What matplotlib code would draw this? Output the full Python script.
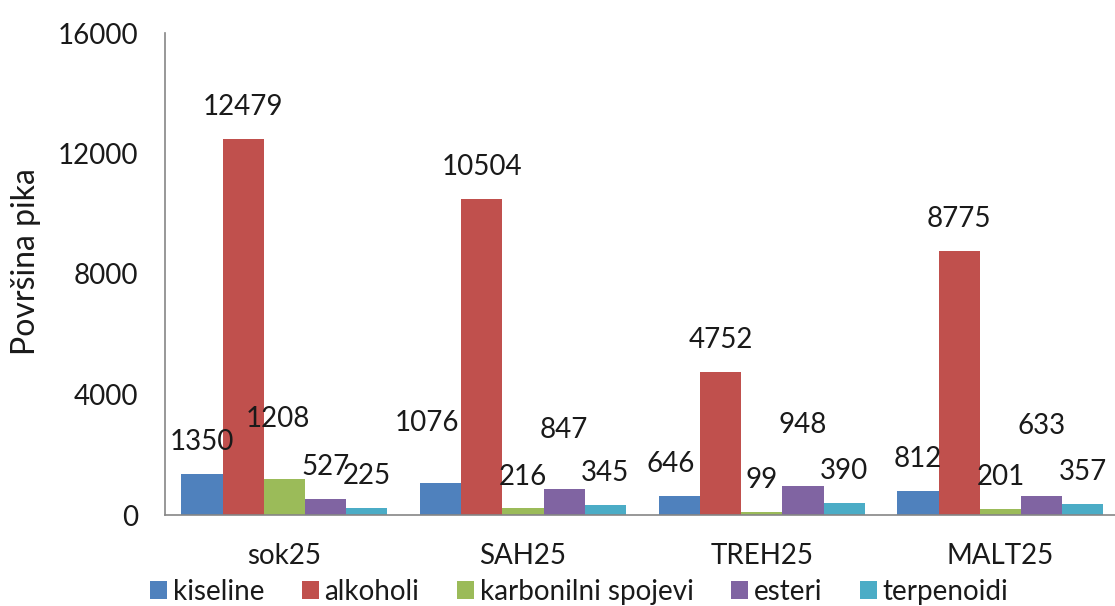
import matplotlib
matplotlib.use("Agg")
import matplotlib.pyplot as plt
import numpy as np

categories = ["sok25", "SAH25", "TREH25", "MALT25"]
series_names = ["kiseline", "alkoholi", "karbonilni spojevi", "esteri", "terpenoidi"]
kiseline = [1350, 1076, 646, 812]
alkoholi = [12479, 10504, 4752, 8775]
karbonilni = [1208, 216, 99, 201]
esteri = [527, 847, 948, 633]
terpenoidi = [225, 345, 390, 357]
yticks = [0, 4000, 8000, 12000, 16000]

series = [kiseline, alkoholi, karbonilni, esteri, terpenoidi]
colors = ["#4F81BD", "#C0504D", "#9BBB59", "#8064A2", "#4BACC6"]
# extra vertical lift (points) for labels moved to avoid overlap: (series idx, category idx)
label_lift = {(2, 0): 20, (0, 1): 20, (3, 1): 20, (3, 2): 21, (3, 3): 27}
label_dx = {(2, 0): -5, (0, 1): -10, (0, 2): -6}

plt.rcParams['font.family'] = ['Lato', 'DejaVu Sans']
txt = '#1a1a1a'
W, H = 1115, 606
fig = plt.figure(figsize=(W / 100, H / 100), dpi=100)
ax = fig.add_axes([165 / W, 91 / H, (W - 165) / W, (515 - 33) / H])

x = np.arange(len(categories))
bw = 0.1726
for i, (vals, name, c) in enumerate(zip(series, series_names, colors)):
    pos = x + (i - 2) * bw
    ax.bar(pos, vals, width=bw, color=c, label=name, linewidth=0)
    for j, (p, v) in enumerate(zip(pos, vals)):
        dy = 23 + label_lift.get((i, j), 0)
        dx = label_dx.get((i, j), 0)
        ax.annotate(str(v), (p, v), xytext=(dx, dy), textcoords='offset points',
                    ha='center', va='center', fontsize=20, color=txt)

ax.set_xlim(-0.5, 3.48)
ax.set_ylim(0, 16000)
ax.set_yticks(yticks)
ax.set_yticklabels([str(t) for t in yticks])
ax.set_xticks(x)
ax.set_xticklabels(categories)
ax.tick_params(axis='both', length=0, labelsize=20, colors=txt)
ax.tick_params(axis='y', pad=19)
ax.tick_params(axis='x', pad=20)
for s in ['top', 'right']:
    ax.spines[s].set_visible(False)
for s in ['left', 'bottom']:
    ax.spines[s].set_color('#868686')
    ax.spines[s].set_linewidth(1.2)
fig.text(26 / W, 1 - 262 / H, "Površina pika", rotation=90, ha='center', va='center',
         fontsize=23, color=txt)

fig.legend(loc='center', bbox_to_anchor=(579 / W, 1 - 592 / H), ncol=5, frameon=False,
           fontsize=20, handlelength=0.62, handleheight=0.62, handletextpad=0.2,
           columnspacing=1.35, labelcolor=txt, borderpad=0, borderaxespad=0)

fig.savefig("out.png", dpi=100)
